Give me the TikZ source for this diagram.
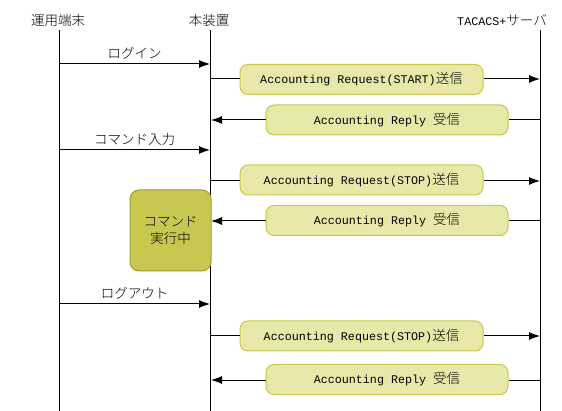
\documentclass[tikz,border=0pt]{standalone}
\usepackage{fontspec}
\usetikzlibrary{arrows.meta}
\newfontfamily\jpf{Noto Sans CJK JP Light}
\newfontfamily\monof{Liberation Mono}
\newcommand{\lat}[1]{{\monof\fontsize{11.7}{14}\selectfont #1}}
\definecolor{boxfill}{HTML}{E8E8A8}
\definecolor{boxline}{HTML}{C8C850}
\definecolor{cmdfill}{HTML}{C8C850}
\definecolor{cmdline}{HTML}{A0A030}
\begin{document}
\begin{tikzpicture}[x=1pt,y=-1pt,
  every node/.style={font=\jpf\fontsize{13.5}{17}\selectfont, inner sep=0pt},
  life/.style={line width=1pt},
  msg/.style={line width=1pt,-{Latex[length=11pt,width=8pt]}},
  lnk/.style={line width=1pt},
  msgbox/.style={draw=boxline,fill=boxfill,rounded corners=8pt,line width=1pt,minimum height=30pt},
  reqbox/.style={msgbox,minimum width=243pt},
  repbox/.style={msgbox,minimum width=242pt},
  cmdbox/.style={draw=cmdline,fill=cmdfill,rounded corners=9pt,line width=1pt,minimum width=81pt,minimum height=81pt,align=center}
]
\useasboundingbox (0,0) rectangle (562,411);
% headers
\node (hT) at (58,20) {運用端末};
\node (hD) at (209,20) {本装置};
\node (hS) at (502,20) {\lat{TACACS+}サーバ};
% lifelines
\coordinate (T0) at (59,30);  \coordinate (T9) at (59,411);
\coordinate (D0) at (210,30); \coordinate (D9) at (210,411);
\coordinate (S0) at (540,30); \coordinate (S9) at (540,411);
\draw[life] (T0) -- (T9);
\draw[life] (D0) -- (D9);
\draw[life] (S0) -- (S9);
% login
\coordinate (t1) at (59,64); \coordinate (d1) at (210,64);
\draw[msg] (t1) -- (d1) node[midway,above=4pt] (lLogin) {ログイン};
% accounting start
\coordinate (d2) at (210,79); \coordinate (s2) at (540,79);
\node[reqbox] (r1) at (361.5,79.5) {\lat{Accounting Request(START)}送信};
\draw[lnk] (d2) -- (r1.west |- d2);
\draw[msg] (r1.east |- s2) -- (s2);
\coordinate (s3) at (540,120); \coordinate (d3) at (211,120);
\node[repbox] (p1) at (387,120) {\lat{Accounting Reply }受信};
\draw[lnk] (s3) -- (p1.east |- s3);
\draw[msg] (p1.west |- d3) -- (d3);
% command input
\coordinate (t4) at (59,150); \coordinate (d4) at (210,150);
\draw[msg] (t4) -- (d4) node[midway,above=4pt] (lCmd) {コマンド入力};
\coordinate (d5) at (210,181); \coordinate (s5) at (540,181);
\node[reqbox] (r2) at (361.5,180) {\lat{Accounting Request(STOP)}送信};
\draw[lnk] (d5) -- (r2.west |- d5);
\draw[msg] (r2.east |- s5) -- (s5);
\coordinate (s6) at (540,221); \coordinate (d6) at (211,221);
\node[repbox] (p2) at (387,220.5) {\lat{Accounting Reply }受信};
\draw[lnk] (s6) -- (p2.east |- s6);
\draw[msg] (p2.west |- d6) -- (d6);
% command running
\node[cmdbox] (cmd) at (170.5,230.5) {コマンド\\実行中};
% logout
\coordinate (t7) at (59,304); \coordinate (d7) at (210,304);
\draw[msg] (t7) -- (d7) node[midway,above=4pt] (lOut) {ログアウト};
\coordinate (d8) at (210,336); \coordinate (s8) at (540,336);
\node[reqbox] (r3) at (361.5,336) {\lat{Accounting Request(STOP)}送信};
\draw[lnk] (d8) -- (r3.west |- d8);
\draw[msg] (r3.east |- s8) -- (s8);
\coordinate (s9) at (540,380); \coordinate (d9) at (211,380);
\node[repbox] (p3) at (387,379.5) {\lat{Accounting Reply }受信};
\draw[lnk] (s9) -- (p3.east |- s9);
\draw[msg] (p3.west |- d9) -- (d9);
\end{tikzpicture}
\end{document}
